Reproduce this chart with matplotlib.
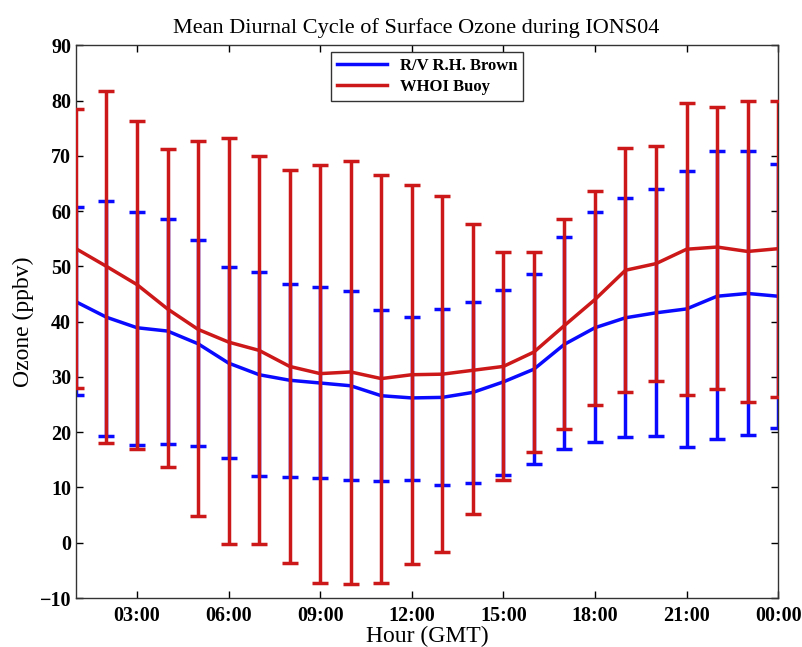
import numpy as np
import matplotlib
matplotlib.use("Agg")
import matplotlib.pyplot as plt

plt.rcParams['font.family'] = ['Liberation Serif', 'DejaVu Serif']

hours = np.arange(1, 25)

# R/V R.H. Brown
brown_mean = [43.6, 40.8, 38.9, 38.3, 36.0, 32.5, 30.4, 29.4, 28.9, 28.4, 26.6, 26.2,
              26.3, 27.2, 29.1, 31.4, 35.9, 38.9, 40.7, 41.6, 42.3, 44.6, 45.1, 44.6]
brown_hi = [60.7, 61.8, 59.9, 58.6, 54.7, 49.8, 48.9, 46.9, 46.2, 45.5, 42.1, 40.9,
            42.2, 43.6, 45.8, 48.6, 55.3, 59.8, 62.3, 64.0, 67.3, 70.8, 70.8, 68.5]
brown_lo = [26.8, 19.4, 17.6, 17.8, 17.5, 15.3, 12.0, 11.9, 11.7, 11.3, 11.2, 11.4,
            10.5, 10.8, 12.3, 14.2, 17.0, 18.3, 19.1, 19.4, 17.4, 18.7, 19.5, 20.7]

# WHOI Buoy
buoy_mean = [53.2, 50.0, 46.7, 42.3, 38.6, 36.3, 34.8, 31.9, 30.6, 30.9, 29.7, 30.4,
             30.5, 31.2, 31.9, 34.5, 39.3, 44.0, 49.3, 50.5, 53.1, 53.5, 52.7, 53.2]
buoy_hi = [78.5, 81.7, 76.3, 71.2, 72.6, 73.3, 70.0, 67.5, 68.3, 69.1, 66.6, 64.8,
           62.8, 57.7, 52.6, 52.6, 58.6, 63.6, 71.5, 71.8, 79.5, 78.9, 80.0, 79.9]
buoy_lo = [28.0, 18.0, 17.0, 13.7, 4.8, -0.3, -0.2, -3.6, -7.2, -7.4, -7.3, -3.8,
           -1.6, 5.2, 11.3, 16.5, 20.5, 25.0, 27.2, 29.2, 26.7, 27.9, 25.4, 26.4]

xticks = [3, 6, 9, 12, 15, 18, 21, 24]
xlabels = ['03:00', '06:00', '09:00', '12:00', '15:00', '18:00', '21:00', '00:00']

blue = '#0a0aff'
red = '#cc1818'

fig = plt.figure(figsize=(8.03, 6.47), dpi=100)
ax = fig.add_axes([0.0946, 0.0757, 0.8744, 0.8543])

bm = np.array(brown_mean)
ax.errorbar(hours, bm, yerr=[bm - np.array(brown_lo), np.array(brown_hi) - bm],
            color=blue, lw=2.5, elinewidth=2.5, capsize=5.5, capthick=2.5,
            label='R/V R.H. Brown', zorder=2)
wm = np.array(buoy_mean)
ax.errorbar(hours, wm, yerr=[wm - np.array(buoy_lo), np.array(buoy_hi) - wm],
            color=red, lw=2.5, elinewidth=2.5, capsize=5.5, capthick=2.5,
            label='WHOI Buoy', zorder=3)

ax.set_xlim(1, 24)
ax.set_ylim(-10, 90)
ax.set_xticks(xticks)
ax.set_xticklabels(xlabels)
ax.set_yticks(np.arange(-10, 91, 10))
ax.tick_params(direction='in', top=True, right=True, length=5, width=1, labelsize=14.5)
ax.tick_params(axis='x', pad=6)
for lab in ax.get_xticklabels() + ax.get_yticklabels():
    lab.set_fontweight('bold')
for s in ax.spines.values():
    s.set_linewidth(1)
    s.set_color('#333333')

ax.set_title('Mean Diurnal Cycle of Surface Ozone during IONS04', fontsize=16, pad=9, x=0.484)
ax.set_xlabel('Hour (GMT)', fontsize=17, labelpad=0)
ax.set_ylabel('Ozone (ppbv)', fontsize=17, labelpad=4)

handles, labels = ax.get_legend_handles_labels()
handles = [h[0] for h in handles]
leg = ax.legend(handles, labels, loc='upper center', bbox_to_anchor=(0.5, 0.987),
                borderaxespad=0, fancybox=False, edgecolor='#333333', framealpha=1,
                prop={'weight': 'bold', 'size': 12}, handlelength=3.0,
                borderpad=0.35, labelspacing=0.3)
leg.get_frame().set_linewidth(1)

fig.savefig('out.png', dpi=100)
